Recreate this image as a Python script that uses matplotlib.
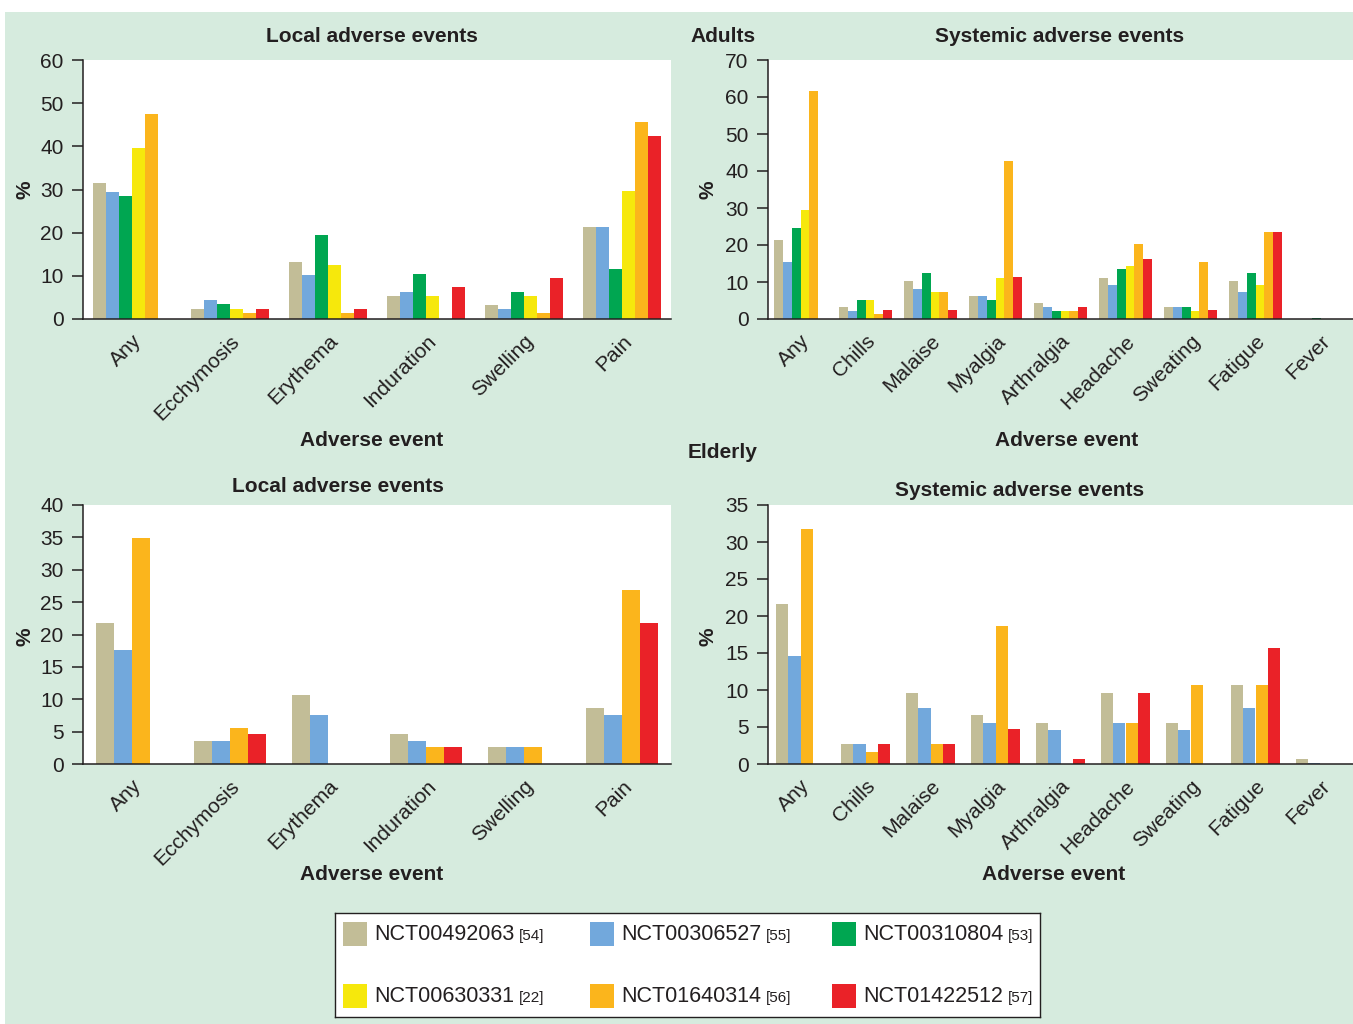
import matplotlib.pyplot as plt
import numpy as np
from matplotlib.patches import Rectangle

plt.rcParams['font.family'] = ['Liberation Sans', 'DejaVu Sans']

W, H = 1353, 1024
BG = '#d6ebde'
TXT = '#231f20'

# trials (legend)
trials = ["NCT00492063", "NCT00306527", "NCT00310804",
          "NCT00630331", "NCT01640314", "NCT01422512"]
refs = ["[54]", "[55]", "[53]", "[22]", "[56]", "[57]"]
colors = ['#c2bd97', '#72a8dc', '#00a651', '#f6e80c', '#fbb51c', '#ea2228']

local_cats = ["Any", "Ecchymosis", "Erythema", "Induration", "Swelling", "Pain"]
sys_cats = ["Any", "Chills", "Malaise", "Myalgia", "Arthralgia", "Headache",
            "Sweating", "Fatigue", "Fever"]

# adults, local (one list per trial, order of local_cats)
adult_local = [
    [31.4, 2.4, 13.3, 5.3, 3.3, 21.4],
    [29.5, 4.4, 10.3, 6.3, 2.4, 21.4],
    [28.6, 3.4, 19.4, 10.4, 6.3, 11.5],
    [39.5, 2.4, 12.5, 5.3, 5.3, 29.6],
    [47.6, 1.4, 1.4, 0, 1.4, 45.7],
    [0, 2.4, 2.4, 7.4, 9.4, 42.5],
]

# adults, systemic
adult_sys = [
    [21.3, 3.2, 10.3, 6.2, 4.2, 11.2, 3.2, 10.3, 0],
    [15.3, 2.2, 8.2, 6.2, 3.2, 9.3, 3.2, 7.2, 0],
    [24.5, 5.2, 12.4, 5.2, 2.2, 13.4, 3.2, 12.4, 0.3],
    [29.4, 5.2, 7.3, 11.2, 2.2, 14.2, 2.2, 9.3, 0],
    [61.7, 1.3, 7.3, 42.6, 2.2, 20.3, 15.3, 23.4, 0],
    [0, 2.3, 2.3, 11.3, 3.2, 16.3, 2.3, 23.4, 0],
]

# elderly: only trials 0, 1, 4, 5
elderly_idx = [0, 1, 4, 5]
elderly_local = [
    [21.7, 3.6, 10.7, 4.6, 2.6, 8.6],
    [17.6, 3.6, 7.6, 3.6, 2.6, 7.6],
    [34.9, 5.6, 0, 2.6, 2.6, 26.8],
    [0, 4.6, 0, 2.6, 0, 21.7],
]
elderly_sys = [
    [21.6, 2.65, 9.6, 6.6, 5.6, 9.6, 5.6, 10.7, 0.7],
    [14.6, 2.65, 7.6, 5.6, 4.6, 5.6, 4.6, 7.6, 0.1],
    [31.7, 1.6, 2.65, 18.7, 0, 5.6, 10.7, 10.7, 0],
    [0, 2.65, 2.65, 4.7, 0.7, 9.6, 0, 15.7, 0],
]


def fx(px):
    return px / W


def fy(py):
    return 1 - py / H


def bars(ax, cats, series, idx, group_w, ymax, step):
    n = len(series)
    bw = group_w / n
    x = np.arange(len(cats))
    for k, (vals, ci) in enumerate(zip(series, idx)):
        ax.bar(x - group_w / 2 + bw * (k + 0.5), vals, bw,
               color=colors[ci], linewidth=0)
    ax.set_xlim(-0.5, len(cats) - 0.5)
    ax.set_ylim(0, ymax)
    ax.set_yticks(np.arange(0, ymax + 0.1, step))
    ax.set_xticks(x)
    ax.set_xticklabels(cats, rotation=45, ha='right', va='top',
                       rotation_mode='anchor', fontsize=15, color=TXT)
    ax.tick_params(axis='x', length=0, pad=9)
    ax.tick_params(axis='y', length=8, width=1.1, pad=6, labelsize=15,
                   colors=TXT, direction='out')
    for s in ['top', 'right']:
        ax.spines[s].set_visible(False)
    for s in ['left', 'bottom']:
        ax.spines[s].set_linewidth(1.1)
        ax.spines[s].set_color(TXT)
    ax.set_facecolor('white')


fig = plt.figure(figsize=(W / 100, H / 100), dpi=100, facecolor='white')
fig.patches.append(Rectangle((fx(5), 0), 1 - fx(5), fy(12), transform=fig.transFigure,
                             facecolor=BG, edgecolor='none', zorder=-10))

ax1 = fig.add_axes([fx(83), fy(319), fx(588), 259 / H])
ax2 = fig.add_axes([fx(768), fy(319), fx(585), 259 / H])
ax3 = fig.add_axes([fx(83), fy(764), fx(588), 259 / H])
ax4 = fig.add_axes([fx(768), fy(764), fx(585), 259 / H])

bars(ax1, local_cats, adult_local, range(6), 0.8, 60, 10)
bars(ax2, sys_cats, adult_sys, range(6), 0.82, 70, 10)
bars(ax3, local_cats, elderly_local, elderly_idx, 0.73, 40, 5)
bars(ax4, sys_cats, elderly_sys, elderly_idx, 0.74, 35, 5)

bold = dict(fontsize=15, fontweight='bold', color=TXT)
fig.text(fx(372), fy(36), "Local adverse events", ha='center', va='center', **bold)
fig.text(fx(1060), fy(36), "Systemic adverse events", ha='center', va='center', **bold)
fig.text(fx(338), fy(486), "Local adverse events", ha='center', va='center', **bold)
fig.text(fx(1020), fy(491), "Systemic adverse events", ha='center', va='center', **bold)
fig.text(fx(690), fy(36), "Adults", ha='left', va='center', **bold)
fig.text(fx(688), fy(453), "Elderly", ha='left', va='center', **bold)
fig.text(fx(372), fy(440), "Adverse event", ha='center', va='center', **bold)
fig.text(fx(1067), fy(440), "Adverse event", ha='center', va='center', **bold)
fig.text(fx(372), fy(875), "Adverse event", ha='center', va='center', **bold)
fig.text(fx(1054), fy(875), "Adverse event", ha='center', va='center', **bold)
for px, py in [(25, 190), (708, 190), (25, 637), (708, 637)]:
    fig.text(fx(px), fy(py), "%", ha='center', va='center', rotation=90, **bold)

# legend box drawn by hand (mixed text sizes)
lax = fig.add_axes([fx(335), fy(1017), fx(705), 104 / H])
lax.set_xlim(335, 1040)
lax.set_ylim(1017, 913)
lax.set_xticks([])
lax.set_yticks([])
lax.set_facecolor('white')
for s in lax.spines.values():
    s.set_linewidth(1.0)
    s.set_color(TXT)

col_x = [343, 590, 832]
row_y = [934, 996]
renderer = fig.canvas.get_renderer()
for i, (name, ref) in enumerate(zip(trials, refs)):
    cx = col_x[i % 3]
    cy = row_y[i // 3]
    lax.add_patch(Rectangle((cx, cy - 12), 24, 24, facecolor=colors[i], edgecolor='none'))
    t = lax.text(cx + 31, cy, name, fontsize=15.5, color=TXT, ha='left', va='center')
    bb = t.get_window_extent(renderer)
    x_end = lax.transData.inverted().transform((bb.x1, bb.y0))[0]
    lax.text(x_end + 5, cy + 2, ref, fontsize=11, color=TXT, ha='left', va='center')

fig.savefig("out.png", dpi=100, facecolor='white')
